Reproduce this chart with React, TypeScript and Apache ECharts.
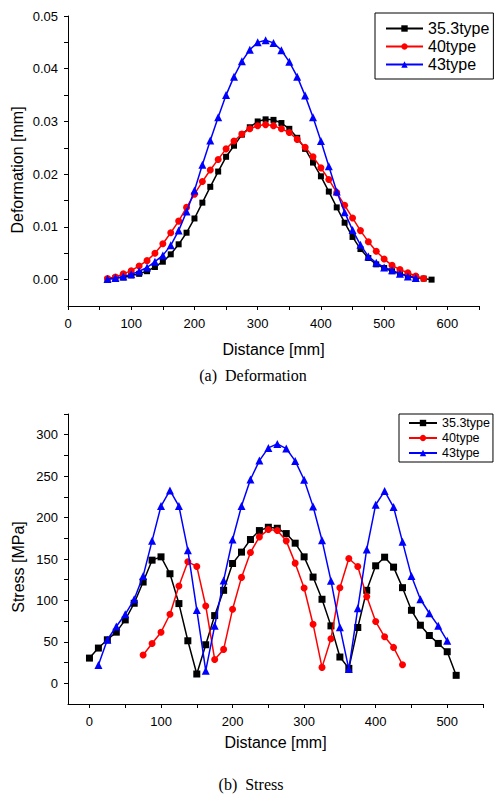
import React, { useEffect, useRef } from "react";
import * as echarts from "echarts";

// ---------- Data: (a) Deformation ----------
const defXBlack = [62.5, 75, 87.5, 100, 112.5, 125, 137.5, 150, 162.5, 175, 187.5, 200, 212.5, 225, 237.5, 250, 262.5, 275, 287.5, 300, 312.5, 325, 337.5, 350, 362.5, 375, 387.5, 400, 412.5, 425, 437.5, 450, 462.5, 475, 487.5, 500, 512.5, 525, 537.5, 550, 562.5, 575];
const defBlack = [0.0, 0.0003, 0.0004, 0.0008, 0.0011, 0.0016, 0.0024, 0.0034, 0.0048, 0.0067, 0.0089, 0.0116, 0.0146, 0.0176, 0.0205, 0.0233, 0.0254, 0.0275, 0.0289, 0.03, 0.0304, 0.0303, 0.0297, 0.0286, 0.0269, 0.0248, 0.0222, 0.0196, 0.0167, 0.0137, 0.0108, 0.0081, 0.0058, 0.0041, 0.0029, 0.0022, 0.0016, 0.0011, 0.0008, 0.0004, 0.0002, 0.0];

const defXRed = [62.5, 75, 87.5, 100, 112.5, 125, 137.5, 150, 162.5, 175, 187.5, 200, 212.5, 225, 237.5, 250, 262.5, 275, 287.5, 300, 312.5, 325, 337.5, 350, 362.5, 375, 387.5, 400, 412.5, 425, 437.5, 450, 462.5, 475, 487.5, 500, 512.5, 525, 537.5, 550, 562.5];
const defRed = [0.0002, 0.0005, 0.0011, 0.0017, 0.0026, 0.0036, 0.005, 0.0068, 0.0089, 0.0111, 0.0137, 0.0162, 0.0186, 0.0208, 0.0228, 0.0248, 0.0263, 0.0276, 0.0286, 0.0292, 0.0294, 0.0292, 0.0286, 0.0279, 0.0266, 0.0251, 0.0233, 0.0212, 0.019, 0.0165, 0.0141, 0.0117, 0.0093, 0.0072, 0.0054, 0.0039, 0.0027, 0.0019, 0.0013, 0.0007, 0.0002];

const defXBlue = [62.5, 75, 87.5, 100, 112.5, 125, 137.5, 150, 162.5, 175, 187.5, 200, 212.5, 225, 237.5, 250, 262.5, 275, 287.5, 300, 312.5, 325, 337.5, 350, 362.5, 375, 387.5, 400, 412.5, 425, 437.5, 450, 462.5, 475, 487.5, 500, 512.5, 525, 537.5, 550];
const defBlue = [0.0001, 0.0003, 0.0006, 0.001, 0.0016, 0.0023, 0.0034, 0.0046, 0.0065, 0.0093, 0.0129, 0.0169, 0.0218, 0.0264, 0.0308, 0.035, 0.0385, 0.0414, 0.0436, 0.045, 0.0454, 0.0449, 0.0435, 0.0413, 0.0385, 0.0349, 0.0308, 0.0263, 0.0215, 0.0167, 0.0128, 0.0094, 0.0066, 0.0044, 0.0032, 0.0023, 0.0018, 0.0011, 0.0006, 0.0003];

// ---------- Data: (b) Stress ----------
const stressXBlack = [0, 12.5, 25, 37.5, 50, 62.5, 75, 87.5, 100, 112.5, 125, 137.5, 150, 162.5, 175, 187.5, 200, 212.5, 225, 237.5, 250, 262.5, 275, 287.5, 300, 312.5, 325, 337.5, 350, 362.5, 375, 387.5, 400, 412.5, 425, 437.5, 450, 462.5, 475, 487.5, 500, 512.5];
const stressBlack = [30.4, 42.5, 52.5, 61.7, 76.5, 96.6, 122.2, 148.6, 152.6, 132.2, 96.2, 51.3, 11.2, 46.5, 81.7, 112.2, 144.6, 158.3, 173.5, 184.3, 188.3, 187.1, 180.7, 169.1, 152.6, 128.2, 101.4, 69.3, 31.7, 18.0, 67.3, 112.2, 141.8, 152.2, 140.2, 115.4, 88.1, 70.1, 57.7, 48.1, 38.1, 9.6];

const stressXRed = [75, 87.5, 100, 112.5, 125, 137.5, 150, 162.5, 175, 187.5, 200, 212.5, 225, 237.5, 250, 262.5, 275, 287.5, 300, 312.5, 325, 337.5, 350, 362.5, 375, 387.5, 400, 412.5, 425, 437.5];
const stressRed = [34.1, 48.1, 61.7, 83.3, 117.4, 146.6, 141.0, 93.3, 28.8, 40.9, 89.3, 127.8, 157.9, 176.7, 185.5, 184.3, 171.9, 145.0, 115.0, 71.3, 19.2, 53.7, 115.4, 150.6, 141.0, 104.6, 74.5, 56.1, 43.3, 22.4];

const stressXBlue = [12.5, 25, 37.5, 50, 62.5, 75, 87.5, 100, 112.5, 125, 137.5, 150, 162.5, 175, 187.5, 200, 212.5, 225, 237.5, 250, 262.5, 275, 287.5, 300, 312.5, 325, 337.5, 350, 362.5, 375, 387.5, 400, 412.5, 425, 437.5, 450, 462.5, 475, 487.5, 500];
const stressBlue = [22.0, 52.5, 68.5, 83.3, 101.4, 129.4, 171.9, 213.9, 232.8, 213.9, 160.7, 88.5, 15.2, 69.3, 124.2, 173.5, 213.9, 246.0, 268.8, 284.1, 288.9, 283.3, 268.4, 245.6, 213.5, 172.7, 123.8, 67.7, 17.2, 90.5, 161.5, 215.5, 232.0, 212.7, 170.7, 129.4, 101.4, 84.5, 69.3, 51.3];

// ---------- Names / ticks ----------
const seriesNames = ["35.3type", "40type", "43type"];
const seriesColors = ["#000000", "#ff0000", "#0000ff"];
const seriesSymbols = ["rect", "circle", "triangle"];

const defXLabels = [0, 100, 200, 300, 400, 500, 600];
const defXTicks = [0, 50, 100, 150, 200, 250, 300, 350, 400, 450, 500, 550, 600, 650];
const defYLabels = [0, 0.01, 0.02, 0.03, 0.04, 0.05];
const defYTicks = [0, 0.005, 0.01, 0.015, 0.02, 0.025, 0.03, 0.035, 0.04, 0.045, 0.05];

const stressXLabels = [0, 100, 200, 300, 400, 500];
const stressXTicks = [0, 50, 100, 150, 200, 250, 300, 350, 400, 450, 500, 550];
const stressYLabels = [0, 50, 100, 150, 200, 250, 300];
const stressYTicks = [0, 25, 50, 75, 100, 125, 150, 175, 200, 225, 250, 275, 300, 325];

const SANS = "'Liberation Sans', Arial, sans-serif";
const SERIF = "'Liberation Serif', 'Times New Roman', serif";

const zip = (xs: number[], ys: number[]) => xs.map((x, i) => [x, ys[i]]);

function axisCommon() {
  return {
    splitLine: { show: false },
    axisLine: { show: true, onZero: false, lineStyle: { color: "#000", width: 1 } },
    axisTick: { show: true, inside: false, length: 4, lineStyle: { color: "#000", width: 1 } },
  };
}

export default function App() {
  const ref = useRef<HTMLDivElement>(null);

  useEffect(() => {
    if (!ref.current) return;
    const chart = echarts.init(ref.current, undefined, { renderer: "svg" });

    const topData = [zip(defXBlack, defBlack), zip(defXRed, defRed), zip(defXBlue, defBlue)];
    const botData = [zip(stressXBlack, stressBlack), zip(stressXRed, stressRed), zip(stressXBlue, stressBlue)];
    const topSizes = [6, 7, 8];
    const botSizes = [7, 7, 8];

    const series: any[] = [];
    [0, 1, 2].forEach((i) => {
      series.push({
        type: "line",
        name: seriesNames[i],
        xAxisIndex: 0,
        yAxisIndex: 0,
        data: topData[i],
        symbol: seriesSymbols[i],
        symbolSize: topSizes[i],
        showAllSymbol: true,
        lineStyle: { color: seriesColors[i], width: 1.5 },
        itemStyle: { color: seriesColors[i] },
        z: 2 + i,
      });
    });
    [0, 1, 2].forEach((i) => {
      series.push({
        type: "line",
        name: seriesNames[i],
        xAxisIndex: 1,
        yAxisIndex: 1,
        data: botData[i],
        symbol: seriesSymbols[i],
        symbolSize: botSizes[i],
        showAllSymbol: true,
        lineStyle: { color: seriesColors[i], width: 1.5 },
        itemStyle: { color: seriesColors[i] },
        z: 2 + i,
      });
    });

    const labelStyle = { color: "#000", fontSize: 13, fontFamily: SANS };

    chart.setOption({
      animation: false,
      backgroundColor: "#ffffff",
      grid: [
        { left: 68, top: 16, width: 411, height: 290, containLabel: false },
        { left: 68, top: 414, width: 415, height: 290, containLabel: false },
      ],
      xAxis: [
        {
          type: "value",
          gridIndex: 0,
          min: 0,
          max: 650,
          ...axisCommon(),
          axisTick: { show: true, inside: false, length: 4, customValues: defXTicks, lineStyle: { color: "#000" } },
          axisLabel: { ...labelStyle, margin: 11, customValues: defXLabels },
          name: "Distance [mm]",
          nameLocation: "middle",
          nameGap: 35,
          nameTextStyle: { color: "#000", fontSize: 16, fontFamily: SANS },
        },
        {
          type: "value",
          gridIndex: 1,
          min: -30,
          max: 550,
          ...axisCommon(),
          axisTick: { show: true, inside: false, length: 4, customValues: stressXTicks, lineStyle: { color: "#000" } },
          axisLabel: { ...labelStyle, margin: 11, customValues: stressXLabels },
          name: "Distance [mm]",
          nameLocation: "middle",
          nameGap: 30,
          nameTextStyle: { color: "#000", fontSize: 16, fontFamily: SANS },
        },
      ],
      yAxis: [
        {
          type: "value",
          gridIndex: 0,
          min: -0.005,
          max: 0.05,
          ...axisCommon(),
          axisTick: { show: true, inside: false, length: 4, customValues: defYTicks, lineStyle: { color: "#000" } },
          axisLabel: {
            ...labelStyle,
            margin: 10,
            customValues: defYLabels,
            formatter: (v: number) => v.toFixed(2),
          },
        },
        {
          type: "value",
          gridIndex: 1,
          min: -25,
          max: 325,
          ...axisCommon(),
          axisTick: { show: true, inside: false, length: 4, customValues: stressYTicks, lineStyle: { color: "#000" } },
          axisLabel: { ...labelStyle, margin: 10, customValues: stressYLabels },
        },
      ],
      legend: [
        {
          orient: "vertical",
          left: 375,
          top: 13,
          padding: [7, 4, 6, 10],
          itemGap: 1,
          itemWidth: 37,
          itemHeight: 8,
          borderColor: "#000",
          borderWidth: 1,
          selectedMode: false,
          data: seriesNames,
          textStyle: { color: "#000", fontSize: 16, fontFamily: SANS, lineHeight: 17 },
        },
        {
          orient: "vertical",
          left: 399,
          top: 414,
          padding: [2, 3, 2, 9],
          itemGap: 1,
          itemWidth: 28,
          itemHeight: 8,
          borderColor: "#000",
          borderWidth: 1,
          selectedMode: false,
          data: seriesNames,
          textStyle: { color: "#000", fontSize: 12.5, fontFamily: SANS, lineHeight: 14 },
        },
      ],
      graphic: [
        {
          type: "text",
          x: 17,
          y: 170,
          rotation: Math.PI / 2,
          style: { text: "Deformation [mm]", fontSize: 16, fontFamily: SANS, fill: "#000", align: "center", verticalAlign: "middle" },
        },
        {
          type: "text",
          x: 18,
          y: 567,
          rotation: Math.PI / 2,
          style: { text: "Stress [MPa]", fontSize: 16, fontFamily: SANS, fill: "#000", align: "center", verticalAlign: "middle" },
        },
        {
          type: "text",
          x: 253,
          y: 375,
          style: { text: "(a)  Deformation", fontSize: 16, fontFamily: SERIF, fill: "#000", align: "center", verticalAlign: "middle" },
        },
        {
          type: "text",
          x: 251,
          y: 784,
          style: { text: "(b)  Stress", fontSize: 16, fontFamily: SERIF, fill: "#000", align: "center", verticalAlign: "middle" },
        },
      ],
      series,
    });

    return () => chart.dispose();
  }, []);

  return (
    <div
      ref={ref}
      style={{ position: "fixed", left: 0, top: 0, width: 494, height: 795, background: "#fff" }}
    />
  );
}
